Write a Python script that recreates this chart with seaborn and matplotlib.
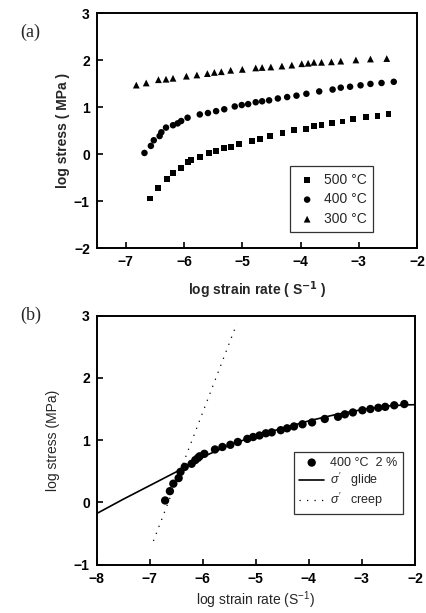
import numpy as np
import pandas as pd
import matplotlib
matplotlib.use("Agg")
import matplotlib.pyplot as plt
import seaborn as sns

# ---- data ----
# (a) 500 C
x_500 = [-6.585, -6.45, -6.30, -6.19, -6.06, -5.94, -5.88, -5.72, -5.57, -5.45, -5.32, -5.20, -5.05,
         -4.83, -4.69, -4.52, -4.31, -4.11, -3.91, -3.77, -3.64, -3.46, -3.28, -3.10, -2.88, -2.68, -2.49]
y_500 = [-0.94, -0.71, -0.53, -0.40, -0.29, -0.17, -0.12, -0.05, 0.03, 0.08, 0.13, 0.155, 0.22,
         0.28, 0.33, 0.39, 0.45, 0.51, 0.545, 0.60, 0.62, 0.67, 0.70, 0.745, 0.79, 0.82, 0.86]
# (a) 400 C
x_400 = [-6.68, -6.57, -6.52, -6.42, -6.39, -6.31, -6.19, -6.11, -6.05, -5.94, -5.73, -5.59, -5.45,
         -5.31, -5.13, -5.01, -4.90, -4.77, -4.66, -4.54, -4.39, -4.23, -4.07, -3.90, -3.68, -3.45,
         -3.31, -3.15, -2.97, -2.80, -2.61, -2.40]
y_400 = [0.03, 0.18, 0.30, 0.39, 0.47, 0.57, 0.62, 0.66, 0.71, 0.78, 0.85, 0.88, 0.92,
         0.96, 1.02, 1.05, 1.07, 1.11, 1.13, 1.15, 1.19, 1.22, 1.25, 1.29, 1.34, 1.38,
         1.42, 1.44, 1.47, 1.50, 1.52, 1.545]
# (a) 300 C
x_300 = [-6.82, -6.65, -6.44, -6.31, -6.19, -5.96, -5.78, -5.60, -5.48, -5.36, -5.20, -5.00, -4.77,
         -4.66, -4.51, -4.32, -4.15, -3.98, -3.87, -3.77, -3.64, -3.47, -3.31, -3.05, -2.80, -2.52]
y_300 = [1.475, 1.52, 1.59, 1.60, 1.62, 1.665, 1.69, 1.72, 1.745, 1.76, 1.79, 1.81, 1.84,
         1.85, 1.86, 1.88, 1.90, 1.93, 1.94, 1.96, 1.96, 1.97, 1.985, 2.01, 2.03, 2.04]

# (b) 400 C 2 %
x_b = [-6.71, -6.62, -6.555, -6.455, -6.42, -6.34, -6.21, -6.14, -6.09, -6.06, -5.97, -5.77, -5.63,
       -5.48, -5.34, -5.16, -5.05, -4.93, -4.81, -4.70, -4.53, -4.41, -4.28, -4.12, -3.94, -3.70,
       -3.45, -3.32, -3.17, -2.99, -2.84, -2.69, -2.56, -2.39, -2.20]
y_b = [0.03, 0.18, 0.30, 0.39, 0.49, 0.57, 0.62, 0.68, 0.715, 0.74, 0.78, 0.85, 0.89,
       0.925, 0.97, 1.02, 1.05, 1.075, 1.11, 1.125, 1.16, 1.19, 1.22, 1.255, 1.285, 1.34,
       1.375, 1.415, 1.445, 1.48, 1.50, 1.52, 1.535, 1.56, 1.58]
# glide curve
x_glide = [-8, -7.5, -7, -6.5, -6, -5.5, -5, -4.5, -4, -3.5, -3, -2.5, -2.2, -2]
y_glide = [-0.18, 0.05, 0.27, 0.49, 0.73, 0.92, 1.07, 1.19, 1.31, 1.41, 1.49, 1.55, 1.565, 1.57]
# creep line
x_creep = [-6.93, -5.36]
y_creep = [-0.62, 2.87]

sns.set_theme(style="ticks")
plt.rcParams['font.family'] = ['Liberation Sans', 'DejaVu Sans']
plt.rcParams['mathtext.fontset'] = 'custom'
plt.rcParams['mathtext.rm'] = 'Liberation Sans'
plt.rcParams['mathtext.it'] = 'Liberation Sans:italic'

fig = plt.figure(figsize=(4.26, 6.13), dpi=100)
ax1 = fig.add_axes([0.227, 0.595, 0.752, 0.383])
ax2 = fig.add_axes([0.227, 0.079, 0.747, 0.406])

# ---- panel (a) ----
sns.scatterplot(x=x_500, y=y_500, ax=ax1, marker="s", color="black", s=18, edgecolor="none", label="500 °C")
sns.scatterplot(x=x_400, y=y_400, ax=ax1, marker="o", color="black", s=22, edgecolor="none", label="400 °C")
sns.scatterplot(x=x_300, y=y_300, ax=ax1, marker="^", color="black", s=24, edgecolor="none", label="300 °C")
ax1.set_xlim(-7.5, -2)
ax1.set_ylim(-2, 3)
ax1.set_xticks([-7, -6, -5, -4, -3, -2])
ax1.set_yticks([-2, -1, 0, 1, 2, 3])
ax1.set_xlabel("log strain rate ( S$^{\\mathbf{-1}}$ )", fontsize=10, fontweight="bold", labelpad=7)
ax1.set_ylabel("log stress ( MPa )", fontsize=10, fontweight="bold", labelpad=3)
leg1 = ax1.legend(loc="upper left", bbox_to_anchor=(0.581, 0.378), frameon=True, fancybox=False,
                  fontsize=10, handletextpad=0.4, handlelength=1.6, borderpad=0.45, labelspacing=0.4)
leg1.get_frame().set_edgecolor("black")
leg1.get_frame().set_linewidth(0.9)

# ---- panel (b) ----
sns.scatterplot(x=x_b, y=y_b, ax=ax2, marker="o", color="black", s=36, edgecolor="none", label="400 °C  2 %")
sns.lineplot(x=x_glide, y=y_glide, ax=ax2, color="black", linewidth=1.2, label="$\\sigma'$   glide", sort=True)
sns.lineplot(x=x_creep, y=y_creep, ax=ax2, color="black", linewidth=0.9, linestyle=(0, (1, 5)),
             label="$\\sigma'$   creep")
ax2.set_xlim(-8, -2)
ax2.set_ylim(-1, 3)
ax2.set_xticks([-8, -7, -6, -5, -4, -3, -2])
ax2.set_yticks([-1, 0, 1, 2, 3])
ax2.set_xlabel("log strain rate (S$^{-1}$)", fontsize=10, labelpad=3)
ax2.set_ylabel("log stress (MPa)", fontsize=10, labelpad=10)
leg2 = ax2.legend(loc="upper left", bbox_to_anchor=(0.601, 0.478), frameon=True, fancybox=False,
                  fontsize=9, handlelength=2.0, handletextpad=0.5, borderpad=0.4, labelspacing=0.15)
leg2.get_frame().set_edgecolor("black")
leg2.get_frame().set_linewidth(0.9)

for ax in (ax1, ax2):
    for sp in ax.spines.values():
        sp.set_linewidth(1.4)
        sp.set_color("black")
    ax.tick_params(direction="in", length=4, width=1.2, labelsize=10, colors="black", pad=5)
    for lab in ax.get_xticklabels() + ax.get_yticklabels():
        lab.set_fontweight("bold")

fig.text(0.047, 0.94, "(a)", family="Liberation Serif", fontsize=13)
fig.text(0.047, 0.478, "(b)", family="Liberation Serif", fontsize=13)

fig.savefig("out.png", dpi=100)
